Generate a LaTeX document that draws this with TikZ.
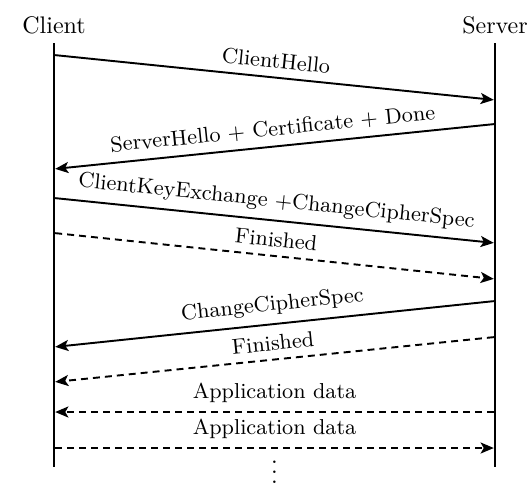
\documentclass[tikz,border=0pt]{standalone}
\usetikzlibrary{arrows.meta}
\begin{document}
\begin{tikzpicture}[x=0.41667pt,y=-0.41667pt,
  life/.style={line width=1.2pt},
  msg/.style={thick,shorten >=0.5pt,shorten <=0.5pt,-{Stealth[length=5.5pt,width=4.6pt,inset=1.3pt]}},
  dmsg/.style={msg,dash pattern=on 2.9pt off 2.1pt},
  lbl/.style={font=\small,sloped,above,midway},
  actor/.style={font=\normalsize,anchor=base,inner sep=0pt}]
\useasboundingbox (0,0) rectangle (530,496);
\node[actor] (client) at (54,33) {Client};
\node[actor] (server) at (495,33) {Server};
\coordinate (ct) at (54,43);  \coordinate (cb) at (54,467);
\coordinate (st) at (495,43); \coordinate (sb) at (495,467);
\draw[life] (ct) -- (cb);
\draw[life] (st) -- (sb);
% message end points
\coordinate (c1) at (54,55);   \coordinate (s1) at (495,100);
\coordinate (s2) at (495,124); \coordinate (c2) at (54,169);
\coordinate (c3) at (54,198);  \coordinate (s3) at (495,243);
\coordinate (c4) at (54,233);  \coordinate (s4) at (495,279);
\coordinate (s5) at (495,301); \coordinate (c5) at (54,347);
\coordinate (s6) at (495,337); \coordinate (c6) at (54,382);
\coordinate (s7) at (495,412); \coordinate (c7) at (54,412);
\coordinate (c8) at (54,448);  \coordinate (s8) at (495,448);
\draw[msg]  (c1) -- node[lbl] {ClientHello} (s1);
\draw[msg]  (s2) -- node[lbl] {ServerHello + Certificate + Done} (c2);
\draw[msg]  (c3) -- node[lbl] {ClientKeyExchange +ChangeCipherSpec} (s3);
\draw[dmsg] (c4) -- node[lbl] {Finished} (s4);
\draw[msg]  (s5) -- node[lbl] {ChangeCipherSpec} (c5);
\draw[dmsg] (s6) -- node[lbl] {Finished} (c6);
\draw[dmsg] (s7) -- node[lbl] {Application data} (c7);
\draw[dmsg] (c8) -- node[lbl] {Application data} (s8);
\node[anchor=base,inner sep=0pt,text height=9.1pt,text depth=0pt] (dots) at (274.5,483) {$\vdots$};
\end{tikzpicture}
\end{document}
